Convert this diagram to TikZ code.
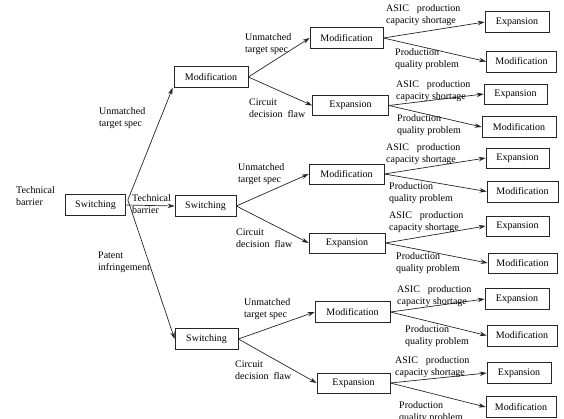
\documentclass[tikz,border=0pt]{standalone}
\usepackage{fontspec}
\setmainfont{Liberation Serif}
\usetikzlibrary{arrows.meta}
\begin{document}
\begin{tikzpicture}[x=1pt,y=-1pt,
  box/.style={draw=black!85, line width=0.7pt, minimum height=21pt, inner sep=0pt, font=\fontsize{10}{12}\selectfont},
  lbl/.style={anchor=west, align=left, inner sep=0pt, font=\fontsize{10}{12}\selectfont},
  arr/.style={draw=black!85, line width=0.7pt, -{Stealth[length=7pt,width=4.5pt]}}]
\useasboundingbox (0,0) rectangle (564,418);
% level 1-2
\node[box, minimum width=60pt] (S0) at (95.5,205) {Switching};
\node[box, minimum width=61pt] (S1) at (205.5,206) {Switching};
\node[box, minimum width=74pt] (M1) at (211,77) {Modification};
\node[box, minimum width=63pt] (S2) at (206.5,339) {Switching};
% level 3
\node[box, minimum width=73pt] (A) at (346.5,38) {Modification};
\node[box, minimum width=76pt, minimum height=20pt] (B) at (350.5,105.5) {Expansion};
\node[box, minimum width=75pt, minimum height=20pt] (C) at (346.5,174) {Modification};
\node[box, minimum width=76pt, minimum height=20pt] (D) at (347,243) {Expansion};
\node[box, minimum width=75pt] (E) at (352.5,312) {Modification};
\node[box, minimum width=73pt, minimum height=20pt] (F) at (353.5,383) {Expansion};
% level 4
\node[box, minimum width=64pt] (A1) at (517,22) {Expansion};
\node[box, minimum width=70pt] (A2) at (521.5,61.5) {Modification};
\node[box, minimum width=63pt, minimum height=20pt] (B1) at (515.5,94) {Expansion};
\node[box, minimum width=74pt] (B2) at (519,127) {Modification};
\node[box, minimum width=63pt, minimum height=20pt] (C1) at (517.5,158) {Expansion};
\node[box, minimum width=71pt] (C2) at (522.5,191.5) {Modification};
\node[box, minimum width=63pt, minimum height=20pt] (D1) at (517.5,226) {Expansion};
\node[box, minimum width=69pt, minimum height=20pt] (D2) at (522.5,263) {Modification};
\node[box, minimum width=64pt] (E1) at (517,299) {Expansion};
\node[box, minimum width=70pt] (E2) at (522,335.5) {Modification};
\node[box, minimum width=64pt] (F1) at (519,373) {Expansion};
\node[box, minimum width=70pt] (F2) at (521,407) {Modification};
% connectors
\draw[arr] (S0.east) -- (S1.west);
\draw[arr] ([xshift=2pt,yshift=5pt]S0.east) -- ([xshift=-1pt]M1.south west);
\draw[arr] ([xshift=2pt,yshift=5pt]S0.east) -- (S2.west);
\draw[arr] (M1.east) -- (A.west);
\draw[arr] (M1.east) -- (B.west);
\draw[arr] (S1.east) -- (C.west);
\draw[arr] (S1.east) -- (D.west);
\draw[arr] (S2.east) -- (E.west);
\draw[arr] (S2.east) -- (F.west);
\draw[arr] (A.east) -- (A1.west);
\draw[arr] (A.east) -- (A2.west);
\draw[arr] (B.east) -- (B1.west);
\draw[arr] (B.east) -- (B2.west);
\draw[arr] (C.east) -- (C1.west);
\draw[arr] (C.east) -- (C2.west);
\draw[arr] (D.east) -- (D1.west);
\draw[arr] (D.east) -- (D2.west);
\draw[arr] (E.east) -- (E1.west);
\draw[arr] (E.east) -- (E2.west);
\draw[arr] (F.east) -- (F1.west);
\draw[arr] (F.east) -- (F2.west);
% labels
\node[lbl] (t0) at (16,196) {Technical\\barrier};
\node[lbl] (t1) at (132,204) {Technical\\barrier};
\node[lbl] (u0) at (99,118.5) {Unmatched\\target spec};
\node[lbl] (p0) at (98,262) {Patent\\infringement};
\node[lbl] (uA) at (245,44) {Unmatched\\target spec};
\node[lbl] (cA) at (249,108) {Circuit\\decision\ \ flaw};
\node[lbl] (uC) at (238,174) {Unmatched\\target spec};
\node[lbl] (cC) at (236,238) {Circuit\\decision\ \ flaw};
\node[lbl] (uE) at (244,309.5) {Unmatched\\target spec};
\node[lbl] (cE) at (235,370.5) {Circuit\\decision\ \ flaw};
% level 4 labels
\node[lbl] (aA) at (386,15) {ASIC\hspace{8pt}production\\capacity\ shortage};
\node[lbl] (qA) at (395,59) {Production\\quality problem};
\node[lbl] (aB) at (396,91) {ASIC\hspace{8pt}production\\capacity\ shortage};
\node[lbl] (qB) at (397,125.5) {Production\\quality problem};
\node[lbl] (aC) at (386,154) {ASIC\hspace{8pt}production\\capacity\ shortage};
\node[lbl] (qC) at (389,193) {Production\\quality problem};
\node[lbl] (aD) at (389,222) {ASIC\hspace{8pt}production\\capacity\ shortage};
\node[lbl] (qD) at (396,263.5) {Production\\quality problem};
\node[lbl] (aE) at (397,296) {ASIC\hspace{8pt}production\\capacity\ shortage};
\node[lbl] (qE) at (405,336) {Production\\quality problem};
\node[lbl] (aF) at (395,367) {ASIC\hspace{8pt}production\\capacity\ shortage};
\node[lbl] (qF) at (399,412) {Production\\quality problem};
\end{tikzpicture}
\end{document}
